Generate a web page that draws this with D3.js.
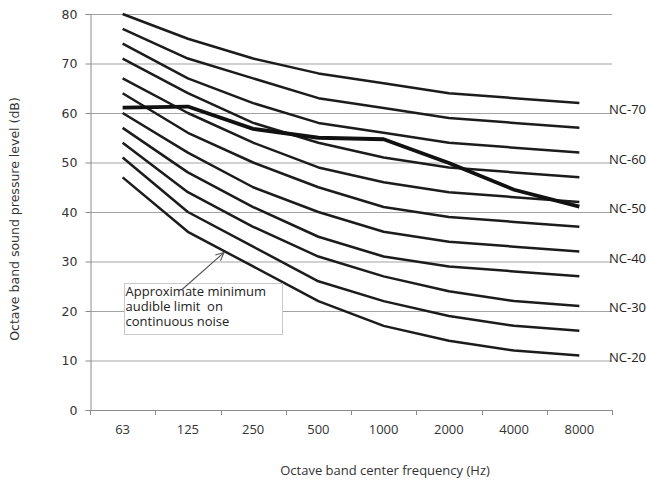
<!DOCTYPE html>
<html><head><meta charset="utf-8">
<script src="https://cdn.jsdelivr.net/npm/d3@7"></script>
<style>
html,body{margin:0;padding:0;background:#fff;}
svg{display:block;}
</style></head>
<body>
<svg id="chart" width="647" height="484"></svg>
<script>
// ---- data ----
const categories = ["63","125","250","500","1000","2000","4000","8000"];
const yTicks = [0,10,20,30,40,50,60,70,80];
const nc15 = [47,36,29,22,17,14,12,11];
const nc20 = [51,40,33,26,22,19,17,16];
const nc25 = [54,44,37,31,27,24,22,21];
const nc30 = [57,48,41,35,31,29,28,27];
const nc35 = [60,52,45,40,36,34,33,32];
const nc40 = [64,56,50,45,41,39,38,37];
const nc45 = [67,60,54,49,46,44,43,42];
const nc50 = [71,64,58,54,51,49,48,47];
const nc55 = [74,67,62,58,56,54,53,52];
const nc60 = [77,71,67,63,61,59,58,57];
const nc65 = [80,75,71,68,66,64,63,62];
const measured = [61.1,61.3,56.8,55,54.7,49.9,44.5,41.1];
const ncLabels = ["NC-70","NC-60","NC-50","NC-40","NC-30","NC-20"];
const ncLabelLevels = [60,50,40,30,20,10];
const noteLines = ["Approximate minimum","audible limit  on","continuous noise"];
const yTitle = "Octave band sound pressure level (dB)";
const xTitle = "Octave band center frequency (Hz)";

// ---- layout ----
const L = 90, R = 612, T = 14, B = 410;
const svg = d3.select("#chart");
const x = d3.scaleBand().domain(categories).range([L, R]).padding(0);
const bw = x.bandwidth();
const y = d3.scaleLinear().domain([0, 80]).range([B, T]);
const cx = c => x(c) + bw / 2;
const gridColor = "#a3a3a3";

// gridlines
svg.append("g").selectAll("line").data(yTicks.filter(v => v > 0)).join("line")
  .attr("x1", L).attr("x2", R).attr("y1", d => y(d) + 0.5).attr("y2", d => y(d) + 0.5)
  .attr("stroke", gridColor).attr("stroke-width", 1);

// y axis
const yAxis = svg.append("g").attr("transform", `translate(${L + 0.5},0)`)
  .call(d3.axisLeft(y).tickValues(yTicks).tickSize(5).tickPadding(8).tickFormat(d3.format("d")));
yAxis.select(".domain").attr("stroke", "#8c8c8c");
yAxis.selectAll(".tick line").attr("stroke", "#8c8c8c");
yAxis.selectAll("text").attr("font-family", "DejaVu Sans").attr("font-size", 12.5).attr("fill", "#333");

// x axis line + boundary ticks
svg.append("line").attr("x1", L).attr("x2", R).attr("y1", B + 0.5).attr("y2", B + 0.5)
  .attr("stroke", "#8c8c8c");
const bounds = categories.map(c => x(c)).concat([R]);
svg.append("g").selectAll("line").data(bounds).join("line")
  .attr("x1", d => Math.round(d) + 0.5).attr("x2", d => Math.round(d) + 0.5)
  .attr("y1", B).attr("y2", B + 5).attr("stroke", "#8c8c8c");
svg.append("g").selectAll("text").data(categories).join("text")
  .attr("x", d => cx(d)).attr("y", 434).attr("text-anchor", "middle")
  .attr("font-family", "Open Sans").attr("font-size", 13).attr("fill", "#333")
  .text(d => d);

// axis titles
svg.append("text").attr("transform", `translate(19,219) rotate(-90)`)
  .attr("text-anchor", "middle").attr("font-family", "DejaVu Sans").attr("font-size", 12.5)
  .attr("fill", "#333").text(yTitle);
svg.append("text").attr("x", 385).attr("y", 475).attr("text-anchor", "middle")
  .attr("font-family", "Open Sans").attr("font-size", 13).attr("fill", "#333").text(xTitle);

// NC curves
const line = d3.line().x((d, i) => cx(categories[i])).y(d => y(d));
const curves = [nc15, nc20, nc25, nc30, nc35, nc40, nc45, nc50, nc55, nc60, nc65];
svg.append("g").selectAll("path").data(curves).join("path")
  .attr("d", line).attr("fill", "none").attr("stroke", "#1c1c1c").attr("stroke-width", 2.5)
  .attr("stroke-linejoin", "round");
svg.append("path").datum(measured).attr("d", line).attr("fill", "none")
  .attr("stroke", "#111").attr("stroke-width", 3.8).attr("stroke-linejoin", "round");

// NC labels
svg.append("g").selectAll("text").data(ncLabels).join("text")
  .attr("x", 609).attr("y", (d, i) => y(ncLabelLevels[i]) + 1)
  .attr("font-family", "Open Sans").attr("font-size", 13).attr("fill", "#222")
  .text(d => d);

// annotation box
svg.append("rect").attr("x", 124.5).attr("y", 283.5).attr("width", 158).attr("height", 51)
  .attr("fill", "#fff").attr("stroke", "#c8c8c8").attr("stroke-width", 1);
svg.append("text")
  .attr("font-family", "Open Sans").attr("font-size", 13).attr("fill", "#222")
  .attr("xml:space", "preserve").style("white-space", "pre")
  .selectAll("tspan").data(noteLines).join("tspan")
  .attr("x", 125.5).attr("y", (d, i) => 296 + i * 15)
  .text(d => d);

// arrow
const ax1 = 181.5, ay1 = 290, ax2 = 224, ay2 = 252.5;
svg.append("line").attr("x1", ax1).attr("y1", ay1).attr("x2", ax2).attr("y2", ay2)
  .attr("stroke", "#555").attr("stroke-width", 1.1);
const ang = Math.atan2(ay2 - ay1, ax2 - ax1), hl = 9, ha = 0.45;
svg.append("path")
  .attr("d", `M${ax2 - hl * Math.cos(ang - ha)},${ay2 - hl * Math.sin(ang - ha)}L${ax2},${ay2}L${ax2 - hl * Math.cos(ang + ha)},${ay2 - hl * Math.sin(ang + ha)}`)
  .attr("fill", "none").attr("stroke", "#555").attr("stroke-width", 1.1);
</script>
</body></html>
